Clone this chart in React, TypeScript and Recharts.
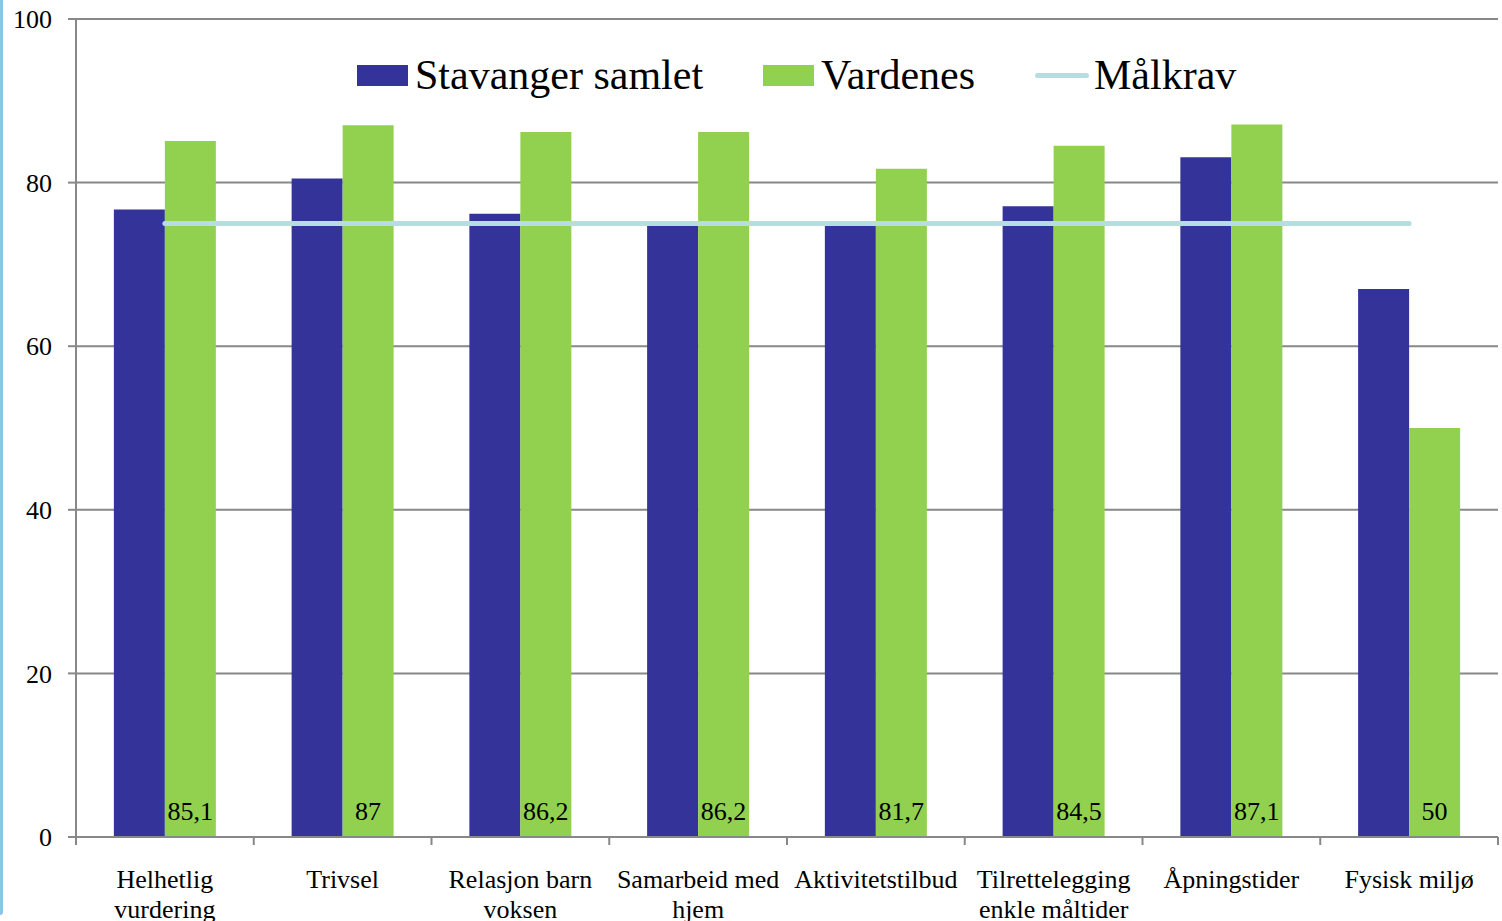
import React from "react";
import {
  ComposedChart,
  Bar,
  Line,
  XAxis,
  YAxis,
  CartesianGrid,
  LabelList,
} from "recharts";

const categories = [
  "Helhetlig\nvurdering",
  "Trivsel",
  "Relasjon barn\nvoksen",
  "Samarbeid med\nhjem",
  "Aktivitetstilbud",
  "Tilrettelegging\nenkle måltider",
  "Åpningstider",
  "Fysisk miljø",
];
const stavangerSamlet = [76.7, 80.5, 76.2, 74.7, 74.7, 77.1, 83.1, 67.0];
const vardenes = [85.1, 87, 86.2, 86.2, 81.7, 84.5, 87.1, 50];
const malkrav = [75, 75, 75, 75, 75, 75, 75, 75];
const yTicks = [0, 20, 40, 60, 80, 100];
const seriesNames = ["Stavanger samlet", "Vardenes", "Målkrav"];

const data = categories.map((c, i) => ({
  name: c,
  stavanger: stavangerSamlet[i],
  vardenes: vardenes[i],
  malkrav: malkrav[i],
}));

const FONT = "'Liberation Serif', 'Times New Roman', serif";
const BLUE = "#333399";
const GREEN = "#92D050";
const TARGET = "#B7DDE0";
const GRID = "#888888";

const CategoryTick = (props: any) => {
  const { x, y, payload, index } = props;
  const lines = String(payload.value).split("\n");
  const half = payload && typeof payload.offset === "number" ? payload.offset : 0;
  const isLast = index === categories.length - 1;
  return (
    <g>
      {half > 0 && (
        <line x1={x - half} x2={x - half} y1={y - 8} y2={y} stroke={GRID} strokeWidth={2} />
      )}
      {half > 0 && isLast && (
        <line x1={x + half} x2={x + half} y1={y - 8} y2={y} stroke={GRID} strokeWidth={2} />
      )}
      {lines.map((l: string, i: number) => (
        <text
          key={i}
          x={x}
          y={y + 43 + i * 30}
          textAnchor="middle"
          fontFamily={FONT}
          fontSize={26}
          fill="#000"
        >
          {l}
        </text>
      ))}
    </g>
  );
};

const legendColors = [BLUE, GREEN, TARGET];
const legendTypes = ["rect", "rect", "line"];

const LegendOverlay = () => (
  <div
    style={{
      position: "absolute",
      left: 357,
      top: 53,
      display: "flex",
      alignItems: "center",
      fontFamily: FONT,
      fontSize: 42,
      color: "#000",
      whiteSpace: "nowrap",
      height: 44,
    }}
  >
    {seriesNames.map((label, i) => (
      <div
        key={i}
        style={{
          display: "flex",
          alignItems: "center",
          marginRight: i < seriesNames.length - 1 ? 60 : 0,
        }}
      >
        {legendTypes[i] === "rect" ? (
          <div style={{ width: 51, height: 21, background: legendColors[i], marginRight: 7 }} />
        ) : (
          <div
            style={{
              width: 54,
              height: 5,
              background: legendColors[i],
              borderRadius: 3,
              marginRight: 5,
            }}
          />
        )}
        <span style={{ lineHeight: "44px" }}>{label}</span>
      </div>
    ))}
  </div>
);

export default function App() {
  return (
    <div style={{ position: "absolute", left: 0, top: 0, width: 1502, height: 921, background: "#fff", overflow: "hidden" }}>
      <div
        style={{
          position: "absolute",
          left: 0,
          top: 0,
          width: 3,
          height: 915,
          background: "#8DC3E3",
          borderBottomRightRadius: 3,
        }}
      />
      <ComposedChart
        width={1502}
        height={921}
        data={data}
        margin={{ top: 19, right: 4, bottom: 0, left: 0 }}
        barGap={0}
        barCategoryGap="21.3%"
      >
        <CartesianGrid vertical={false} stroke={GRID} strokeWidth={2} />
        <XAxis
          dataKey="name"
          height={84}
          interval={0}
          tickLine={false}
          axisLine={{ stroke: GRID, strokeWidth: 2 }}
          tick={<CategoryTick />}
        />
        <YAxis
          width={76}
          domain={[0, 100]}
          ticks={yTicks}
          tickSize={8}
          tickMargin={16}
          axisLine={{ stroke: GRID, strokeWidth: 2 }}
          tickLine={{ stroke: GRID, strokeWidth: 2 }}
          tick={{ fontFamily: FONT, fontSize: 26, fill: "#000" }}
        />
        <Bar dataKey="stavanger" fill={BLUE} isAnimationActive={false} name={seriesNames[0]} />
        <Bar dataKey="vardenes" fill={GREEN} isAnimationActive={false} name={seriesNames[1]}>
          <LabelList
            dataKey="vardenes"
            position="insideBottom"
            offset={17}
            formatter={(v: any) => String(v).replace(".", ",")}
            style={{ fontFamily: FONT, fontSize: 26, fill: "#000" }}
          />
        </Bar>
        <Line
          dataKey="malkrav"
          stroke={TARGET}
          strokeWidth={5}
          strokeLinecap="round"
          dot={false}
          activeDot={false}
          isAnimationActive={false}
          name={seriesNames[2]}
        />
      </ComposedChart>
      <LegendOverlay />
    </div>
  );
}
